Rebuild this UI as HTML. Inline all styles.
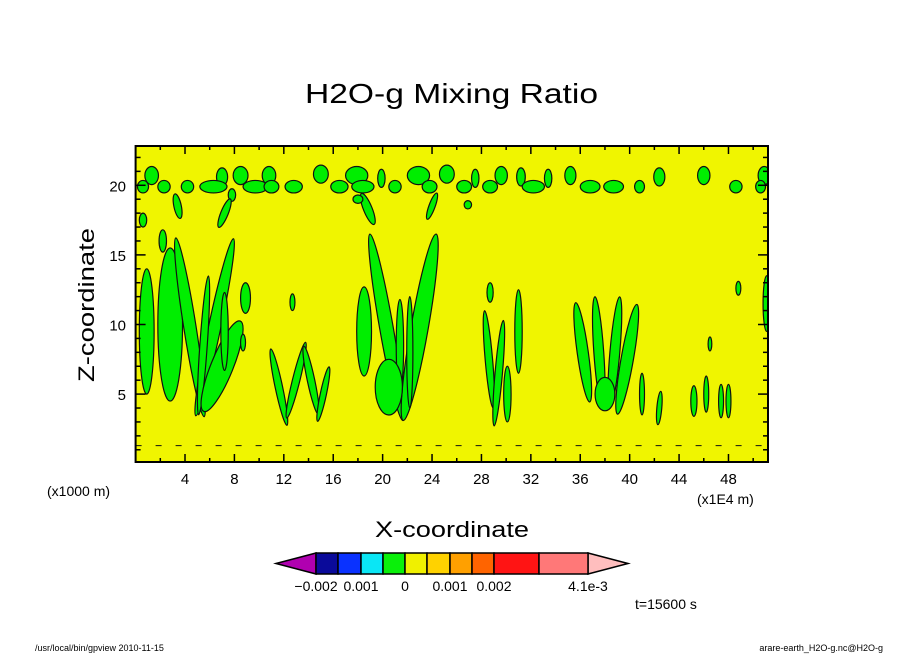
<!DOCTYPE html>
<html><head><meta charset="utf-8">
<style>
body{margin:0;background:#fff;width:904px;height:654px;overflow:hidden;font-family:"Liberation Sans","DejaVu Sans",sans-serif;}
svg text{font-family:"Liberation Sans","DejaVu Sans",sans-serif;fill:#000;}
</style></head>
<body>
<svg id="chart" width="904" height="654" viewBox="0 0 904 654" xmlns="http://www.w3.org/2000/svg">
<text x="305" y="103" textLength="293" lengthAdjust="spacingAndGlyphs" font-size="28">H2O-g Mixing Ratio</text>
<g id="plot"></g>
<g id="axes"></g>
<text transform="translate(94,382) rotate(-90)" textLength="154" lengthAdjust="spacingAndGlyphs" font-size="22">Z-coordinate</text>
<text x="375" y="537" textLength="154" lengthAdjust="spacingAndGlyphs" font-size="22">X-coordinate</text>
<text x="47" y="496" font-size="14">(x1000 m)</text>
<text x="697" y="504" font-size="14">(x1E4 m)</text>
<g id="cbar"></g>
<text x="635" y="609" font-size="14">t=15600 s</text>
<text x="35" y="651" font-size="9">/usr/local/bin/gpview  2010-11-15</text>
<text x="883" y="651" text-anchor="end" font-size="9">arare-earth_H2O-g.nc@H2O-g</text>
</svg>
<script>
// axis data
const xTicks=[4,8,12,16,20,24,28,32,36,40,44,48];
const yTicks=[5,10,15,20];
// top-row cloud blobs (x in 1E4 m, z in km)
const upperX=[1.3,7.0,8.5,10.8,15.0,17.9,19.9,22.9,25.2,27.5,29.6,31.2,33.4,35.2,42.4,46.0,50.9];
const upperZ=[20.7,20.6,20.7,20.7,20.8,20.7,20.5,20.7,20.8,20.5,20.7,20.6,20.5,20.7,20.6,20.7,20.7];
const upperR=[0.55,0.45,0.6,0.55,0.6,0.9,0.3,0.9,0.6,0.3,0.5,0.35,0.3,0.45,0.45,0.5,0.5];
const lowerX=[0.6,2.3,4.2,6.3,7.8,9.7,11.0,12.8,16.5,18.4,21.0,23.8,26.6,28.7,32.2,36.8,38.7,40.8,48.6,50.6];
const lowerZ=[19.9,19.9,19.9,19.9,19.3,19.9,19.9,19.9,19.9,19.9,19.9,19.9,19.9,19.9,19.9,19.9,19.9,19.9,19.9,19.9];
const lowerR=[0.45,0.5,0.5,1.1,0.3,1.0,0.6,0.7,0.7,0.9,0.5,0.6,0.6,0.6,0.9,0.8,0.8,0.4,0.5,0.4];
// plumes: center x, center z, half-width, half-height, tilt (deg)
const plumeX=[0.9,2.8,4.4,6.4,5.5,7.0,7.2,2.2,0.6,3.4,7.2,8.9,12.7,8.7,11.6,13.0,14.2,15.2,18.5,20.3,23.0,21.4,22.2,20.5,18.8,24.0,18.0,28.6,29.4,31.0,30.1,28.7,36.2,37.5,38.8,39.8,38.0,41.0,42.4,45.2,46.2,47.4,48.0,46.5,48.8,51.1,26.9];
const plumeZ=[9.5,10.0,9.8,9.8,8.5,7.0,9.5,16.0,17.5,18.5,18.0,11.9,11.6,8.7,5.5,6.0,6.0,5.0,9.5,9.8,9.8,8.5,8.0,5.5,18.3,18.5,19.0,7.5,6.5,9.5,5.0,12.3,8.0,8.0,8.0,7.5,5.0,5.0,4.0,4.5,5.0,4.5,4.5,8.6,12.6,11.5,18.6];
const plumeW=[0.6,1.0,0.5,0.5,0.3,0.9,0.3,0.3,0.3,0.3,0.3,0.4,0.2,0.2,0.3,0.3,0.3,0.25,0.6,0.55,0.7,0.3,0.25,1.1,0.35,0.25,0.4,0.3,0.3,0.3,0.3,0.25,0.45,0.4,0.4,0.5,0.8,0.2,0.2,0.25,0.2,0.2,0.2,0.15,0.2,0.3,0.3];
const plumeH=[4.5,5.5,6.5,6.5,5.0,3.5,2.8,0.8,0.5,0.9,1.1,1.1,0.6,0.6,2.8,2.8,2.5,2.0,3.2,6.8,6.8,3.3,4.0,2.0,1.2,1.0,0.3,3.5,3.8,3.0,2.0,0.7,3.6,4.0,4.0,4.0,1.2,1.5,1.2,1.1,1.3,1.2,1.2,0.5,0.5,2.0,0.3];
const plumeTilt=[0,0,-9,12,4,22,0,0,0,-12,22,0,0,0,-12,14,-12,12,0,-10,10,0,0,0,-22,20,0,-5,5,0,0,0,-8,-4,5,10,0,0,5,0,0,0,0,0,0,0,0];
// colorbar
const cbColors=["#0a0a9a","#0a32ff","#0ae6f5","#0af00a","#f0f000","#ffd200","#ffa000","#ff6400","#ff1414","#ff7878"];
const cbEdges=[316,338,361,383,405,427,450,472,494,539,588];
const cbLabels=["−0.002","0.001","0","0.001","0.002","4.1e-3"];
const cbLabelX=[316,361,405,450,494,588];

const L=135.6,R=768,T=146,B=462;
const xMin=0,xMax=51.2,yMin=0,yMax=22.7;
const sx=v=>L+(v-xMin)/(xMax-xMin)*(R-L);
const sy=v=>B-(v-yMin)/(yMax-yMin)*(B-T)+1.7;
const kx=(R-L)/(xMax-xMin), ky=(B-T)/(yMax-yMin);
const NS="http://www.w3.org/2000/svg";
function mk(tag,attrs,parent){const e=document.createElementNS(NS,tag);for(const k in attrs)e.setAttribute(k,attrs[k]);parent.appendChild(e);return e;}
const plot=document.getElementById('plot');
const bg=mk('rect',{x:L,y:T,width:R-L,height:B-T,fill:'#f0f500'},plot);


const clip=mk('clipPath',{id:'pc'},plot);mk('rect',{x:L,y:T,width:R-L,height:B-T},clip);
const g=mk('g',{'clip-path':'url(#pc)'},plot);
function blob(cx,cz,rx,rz,tilt,name){
  const e=mk('ellipse',{cx:sx(cx),cy:sy(cz),rx:rx*kx,ry:rz*ky,fill:'#00ee00',stroke:'#111',"stroke-width":1.2,transform:`rotate(${tilt} ${sx(cx)} ${sy(cz)})`},g);
  
  
}
upperX.forEach((x,i)=>blob(x,upperZ[i],upperR[i],0.65,0,'cloud-upper'));
lowerX.forEach((x,i)=>blob(x,lowerZ[i],lowerR[i],0.45,0,'cloud-lower'));
plumeX.forEach((x,i)=>blob(x,plumeZ[i],plumeW[i],plumeH[i],plumeTilt[i],'plume'));
// bottom dashed contour
const dl=mk('line',{x1:L,x2:R,y1:sy(1.3),y2:sy(1.3),stroke:'#111','stroke-width':1,'stroke-dasharray':'6 14'},g);



const ax=document.getElementById('axes');
const fr=mk('rect',{x:L,y:T,width:R-L,height:B-T,fill:'none',stroke:'#000','stroke-width':2},ax);


for(let v=2;v<xMax;v+=2){const maj=v%4===0,len=maj?8:4;
  mk('line',{x1:sx(v),x2:sx(v),y1:B,y2:B-len,stroke:'#000','stroke-width':1.5},ax);
  mk('line',{x1:sx(v),x2:sx(v),y1:T,y2:T+len,stroke:'#000','stroke-width':1.5},ax);}
for(let v=1;v<yMax;v++){const maj=v%5===0,len=maj?10:5;
  mk('line',{x1:L,x2:L+len,y1:sy(v),y2:sy(v),stroke:'#000','stroke-width':1.5},ax);
  mk('line',{x1:R,x2:R-len,y1:sy(v),y2:sy(v),stroke:'#000','stroke-width':1.5},ax);}
xTicks.forEach(v=>{const t=mk('text',{x:sx(v),y:484,'text-anchor':'middle','font-size':15},ax);t.textContent=v;
  
  });
yTicks.forEach(v=>{const t=mk('text',{x:126,y:sy(v)+6,'text-anchor':'end','font-size':15},ax);t.textContent=v;
  
  });

const cb=document.getElementById('cbar');
const cy0=553,cy1=574,cm=(cy0+cy1)/2;
const lt=mk('polygon',{points:`276,${cm} 316,${cy0} 316,${cy1}`,fill:'#b000b0',stroke:'#000','stroke-width':1.5},cb);


const rt=mk('polygon',{points:`628,${cm} 588,${cy0} 588,${cy1}`,fill:'#ffbebe',stroke:'#000','stroke-width':1.5},cb);


cbColors.forEach((c,i)=>{const r=mk('rect',{x:cbEdges[i],y:cy0,width:cbEdges[i+1]-cbEdges[i],height:cy1-cy0,fill:c,stroke:'#000','stroke-width':1.5},cb);
  
  });
cbLabels.forEach((s,i)=>{const t=mk('text',{x:cbLabelX[i],y:591,'text-anchor':'middle','font-size':14},cb);t.textContent=s;
  
  });
</script>
</body></html>
